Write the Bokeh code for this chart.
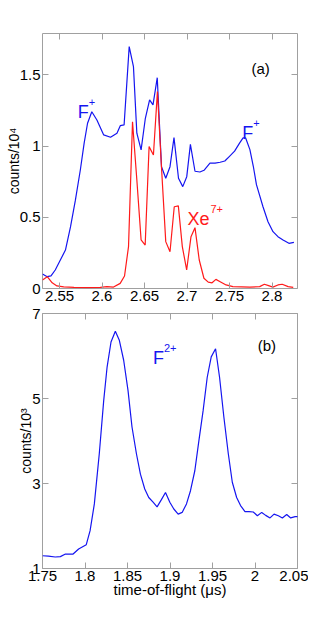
from bokeh.plotting import figure
from bokeh.layouts import column
from bokeh.models import FixedTicker, CustomJSTickFormatter, LinearAxis, Range1d
from bokeh.core.properties import value
from bokeh.embed import file_html
from bokeh.resources import INLINE

# ---------------- data ----------------
# panel (a): F+ (blue) and Xe7+ (red), counts / 10^4 vs time-of-flight (us)
fplus_x = [2.530, 2.5355, 2.540, 2.545, 2.551, 2.557, 2.563, 2.5687, 2.5745, 2.579,
           2.583, 2.588, 2.594, 2.602, 2.610, 2.6176, 2.6215, 2.626, 2.632, 2.637,
           2.641, 2.646, 2.651, 2.656, 2.660, 2.665, 2.670, 2.675, 2.680, 2.6847,
           2.690, 2.695, 2.6997, 2.704, 2.7094, 2.7152, 2.720, 2.727, 2.733, 2.739,
           2.7445, 2.750, 2.756, 2.762, 2.766, 2.769, 2.774, 2.778, 2.7817, 2.7894,
           2.7953, 2.8012, 2.807, 2.813, 2.8199, 2.8258]
fplus_y = [0.102, 0.083, 0.088, 0.13, 0.20, 0.27, 0.434, 0.62, 0.832, 1.02,
           1.16, 1.241, 1.183, 1.078, 1.062, 1.09, 1.143, 1.148, 1.698, 1.558,
           1.09, 0.973, 1.195, 1.324, 1.289, 1.48, 0.855, 0.774, 0.855, 1.059,
           0.774, 0.715, 0.785, 1.012, 0.823, 0.818, 0.83, 0.88, 0.88, 0.886,
           0.895, 0.928, 0.964, 1.022, 1.057, 1.057, 0.975, 0.858, 0.729, 0.574,
           0.469, 0.399, 0.364, 0.34, 0.317, 0.324]

xe_x = [2.530, 2.5356, 2.5414, 2.547, 2.555, 2.567, 2.582, 2.598, 2.6058, 2.6136,
        2.6214, 2.6265, 2.6312, 2.6359, 2.641, 2.646, 2.6508, 2.6554, 2.6605, 2.6652,
        2.670, 2.675, 2.680, 2.685, 2.6898, 2.6945, 2.6996, 2.7047, 2.7094, 2.7144,
        2.7199, 2.725, 2.7295, 2.734, 2.739, 2.746, 2.754, 2.774, 2.7855, 2.791,
        2.796, 2.801, 2.807, 2.812, 2.819, 2.825]
xe_y = [0.06, 0.083, 0.04, 0.018, 0.012, 0.008, 0.006, 0.008, 0.013, 0.01,
        0.036, 0.088, 0.294, 1.171, 0.762, 0.341, 0.305, 0.996, 0.937, 1.382,
        0.85, 0.329, 0.258, 0.574, 0.58, 0.294, 0.13, 0.364, 0.427, 0.2,
        0.072, 0.045, 0.04, 0.064, 0.048, 0.025, 0.013, 0.01, 0.013, 0.03,
        0.02, 0.01, 0.025, 0.03, 0.013, 0.008]

# panel (b): F2+ (blue), counts / 10^3
f2_x = [1.750, 1.757, 1.765, 1.771, 1.777, 1.786, 1.7925, 1.8015, 1.806, 1.811,
        1.8168, 1.822, 1.826, 1.8306, 1.8357, 1.8404, 1.8455, 1.8506, 1.8553, 1.8605,
        1.8652, 1.8703, 1.875, 1.8801, 1.8848, 1.8899, 1.8947, 1.8998, 1.9045, 1.9096,
        1.9143, 1.9194, 1.9241, 1.9292, 1.934, 1.939, 1.9438, 1.9485, 1.9536, 1.9583,
        1.9634, 1.9686, 1.9733, 1.9784, 1.983, 1.9882, 1.993, 1.998, 2.0028, 2.0079,
        2.0126, 2.0177, 2.0224, 2.0275, 2.0322, 2.0373, 2.042, 2.0472, 2.0507]
f2_y = [1.30, 1.29, 1.27, 1.28, 1.34, 1.34, 1.46, 1.56, 1.89, 2.52,
        3.70, 4.95, 5.74, 6.33, 6.58, 6.37, 5.90, 5.19, 4.33, 3.70,
        3.22, 2.87, 2.67, 2.56, 2.45, 2.62, 2.79, 2.56, 2.40, 2.28,
        2.32, 2.52, 2.83, 3.30, 4.01, 4.72, 5.50, 5.98, 6.17, 5.50,
        4.56, 3.70, 3.03, 2.67, 2.48, 2.34, 2.34, 2.33, 2.24, 2.32,
        2.25, 2.19, 2.28, 2.24, 2.19, 2.27, 2.19, 2.22, 2.22]

a_xticks = [2.55, 2.60, 2.65, 2.70, 2.75, 2.80]
a_yticks = [0, 0.5, 1.0, 1.5]
b_xticks = [1.75, 1.80, 1.85, 1.90, 1.95, 2.00, 2.05]
b_yticks = [1, 3, 5, 7]

a_ylabel = "counts/10\u2074"
b_ylabel = "counts/10\u00b3"
b_xlabel = "time-of-flight (\u03bcs)"

# ---------------- style ----------------
FONT = "Liberation Sans"
GRAY = "#a0a0a0"
BLUE = "#1515f0"
RED = "#ff1a1a"

fmt_js = "return tick.toString();"


def make_fig(xr, yr, xticks, yticks, xlabel, ylabel, height, top, bottom):
    p = figure(width=308, height=height, x_range=Range1d(*xr), y_range=Range1d(*yr),
               output_backend="svg", toolbar_location=None,
               min_border_left=42, min_border_right=11,
               min_border_top=top, min_border_bottom=bottom)
    p.grid.visible = False
    p.outline_line_color = GRAY
    p.outline_line_width = 1
    p.background_fill_color = "white"
    p.border_fill_color = "white"
    for ax, ticks in ((p.xaxis[0], xticks), (p.yaxis[0], yticks)):
        ax.ticker = FixedTicker(ticks=ticks)
        ax.formatter = CustomJSTickFormatter(code=fmt_js)
        ax.axis_line_color = None
        ax.major_tick_line_color = GRAY
        ax.major_tick_in = 6
        ax.major_tick_out = 0
        ax.minor_tick_line_color = None
        ax.major_label_text_font = FONT
        ax.major_label_text_font_size = "15px"
        ax.major_label_text_color = "black"
        ax.major_label_standoff = 2
        ax.axis_label_text_font = FONT
        ax.axis_label_text_font_style = "normal"
        ax.axis_label_text_color = "black"
        ax.axis_label_standoff = -3
    p.yaxis[0].axis_label_standoff = -5
    p.xaxis[0].axis_label = xlabel
    p.xaxis[0].axis_label_text_font_size = "15px"
    p.yaxis[0].axis_label = ylabel
    p.yaxis[0].axis_label_text_font_size = "14px"
    for side, ticks in (("above", xticks), ("right", yticks)):
        ax = LinearAxis(ticker=FixedTicker(ticks=ticks),
                        formatter=CustomJSTickFormatter(code="return '';"),
                        axis_line_color=None, major_tick_line_color=GRAY,
                        major_tick_in=6, major_tick_out=0,
                        minor_tick_line_color=None, major_label_standoff=0,
                        major_label_text_font_size="1px")
        p.add_layout(ax, side)
    return p


def label(p, x, y, main, sup, color, sup_dx):
    p.text(x=[x], y=[y], text=[main], text_font=value(FONT), text_font_size="18px",
           text_color=color, text_baseline="alphabetic", text_align="left")
    if sup:
        p.text(x=[x], y=[y], text=[sup], text_font=value(FONT), text_font_size="11px",
               text_color=color, text_baseline="alphabetic", text_align="left",
               x_offset=sup_dx, y_offset=-10)


# panel (a)
pa = make_fig((2.53, 2.83), (0, 1.79), a_xticks, a_yticks, None, a_ylabel, 306, 33, 18)
pa.line(fplus_x, fplus_y, line_color=BLUE, line_width=1.2)
pa.line(xe_x, xe_y, line_color=RED, line_width=1.2)
label(pa, 2.5715, 1.241, "F", "+", BLUE, 11)
label(pa, 2.765, 1.09, "F", "+", BLUE, 11)
label(pa, 2.7005, 0.488, "Xe", "7+", RED, 23)
pa.text(x=[2.7867], y=[1.541], text=["(a)"], text_font=value(FONT), text_font_size="15px",
        text_color="black", text_baseline="middle", text_align="center")

# panel (b)
pb = make_fig((1.75, 2.05), (1, 7), b_xticks, b_yticks, b_xlabel, b_ylabel, 302, 7, 40)
pb.line(f2_x, f2_y, line_color=BLUE, line_width=1.2)
label(pb, 1.880, 5.96, "F", "2+", BLUE, 11)
pb.text(x=[2.014], y=[6.25], text=["(b)"], text_font=value(FONT), text_font_size="15px",
        text_color="black", text_baseline="middle", text_align="center")

layout = column(pa, pb, spacing=0)
open("out.html", "w").write(file_html(layout, INLINE))
